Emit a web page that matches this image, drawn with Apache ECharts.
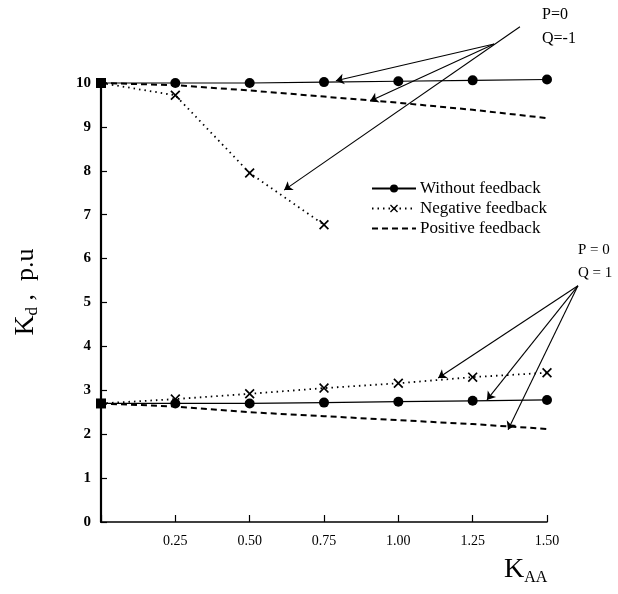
<!DOCTYPE html>
<html>
<head>
<meta charset="utf-8">
<script src="https://cdn.jsdelivr.net/npm/echarts@6/dist/echarts.min.js"></script>
<style>html,body{margin:0;padding:0;background:#fff}#c{width:618px;height:594px}</style>
</head>
<body>
<div id="c"></div>
<script>
// ---- data ----
var kaa = [0, 0.25, 0.5, 0.75, 1.0, 1.25, 1.5];
var kaaNeg = [0, 0.25, 0.5, 0.75];
// Q = -1
var qm1Without  = [10, 10.0, 10.0, 10.02, 10.04, 10.06, 10.08];
var qm1Negative = [10, 9.72, 7.95, 6.77];
var qm1Positive = [10, 9.95, 9.83, 9.69, 9.55, 9.39, 9.2];
// Q = 1
var q1Without  = [2.7, 2.7, 2.7, 2.72, 2.74, 2.76, 2.78];
var q1Negative = [2.7, 2.8, 2.92, 3.05, 3.16, 3.3, 3.4];
var q1Positive = [2.7, 2.63, 2.5, 2.41, 2.32, 2.23, 2.12];
var legendNames = ['Without feedback', 'Negative feedback', 'Positive feedback'];
var xTicks = [0.25, 0.5, 0.75, 1.0, 1.25, 1.5];
// annotation arrows (data coords): [from, to]
var arrowsTop = [
  [[1.322, 10.89], [0.79, 10.05]],
  [[1.322, 10.89], [0.905, 9.59]],
  [[1.409, 11.28], [0.616, 7.56]]
];
var arrowsBottom = [
  [[1.604, 5.38], [1.134, 3.28]],
  [[1.604, 5.38], [1.298, 2.78]],
  [[1.604, 5.38], [1.369, 2.10]]
];

function pairs(xs, ys) { return ys.map(function (y, i) { return [xs[i], y]; }); }
function withStart(d) {
  return d.map(function (p, i) { return i === 0 ? {value: p, symbol: 'rect', symbolSize: 10} : p; });
}
function noStart(d) {
  return d.map(function (p, i) { return i === 0 ? {value: p, symbol: 'none'} : p; });
}
var XSYM = 'path://M0,1.2L1.2,0L5,3.8L8.8,0L10,1.2L6.2,5L10,8.8L8.8,10L5,6.2L1.2,10L0,8.8L3.8,5Z';
var serif = 'Liberation Serif';

function withoutSeries(ys) {
  return {
    name: legendNames[0], type: 'line', data: withStart(pairs(kaa, ys)),
    symbol: 'circle', symbolSize: 10, clip: false,
    lineStyle: {color: '#000', width: 1.2}, itemStyle: {color: '#000'}, z: 5
  };
}
function negSeries(xs, ys) {
  return {
    name: legendNames[1], type: 'line', data: noStart(pairs(xs, ys)),
    symbol: XSYM, symbolSize: 10, clip: false,
    lineStyle: {color: '#000', width: 1.8, type: [1.5, 4]}, itemStyle: {color: '#000'}, z: 4
  };
}
function posSeries(ys) {
  return {
    name: legendNames[2], type: 'line', data: pairs(kaa, ys),
    showSymbol: false, symbol: 'none', clip: false,
    lineStyle: {color: '#000', width: 2, type: [6, 4]}, itemStyle: {color: '#000'}, z: 3
  };
}
function arrowSeries(list) {
  return {
    type: 'lines', coordinateSystem: 'cartesian2d', clip: false, silent: true,
    symbol: ['none', 'arrow'], symbolSize: 8,
    lineStyle: {color: '#000', width: 1.1, opacity: 1},
    data: list.map(function (a) { return {coords: a}; }), z: 6
  };
}

var chart = echarts.init(document.getElementById('c'), null, {renderer: 'canvas'});
chart.setOption({
  animation: false,
  backgroundColor: '#fff',
  textStyle: {fontFamily: serif, color: '#000'},
  grid: {left: 101, right: 71, top: 83, bottom: 72},
  legend: {
    data: [
      {name: legendNames[0]},
      {name: legendNames[1]},
      {name: legendNames[2], itemStyle: {color: 'rgba(0,0,0,0)', borderWidth: 0, opacity: 0}}
    ],
    orient: 'vertical', left: 366, top: 175,
    itemWidth: 44, itemHeight: 10, itemGap: 3,
    textStyle: {fontFamily: serif, fontSize: 17, color: '#000', padding: [0, 0, 0, -1]}
  },
  xAxis: {
    type: 'value', min: 0, max: 1.5, interval: 0.25,
    axisLine: {lineStyle: {color: '#000', width: 1.6}},
    axisTick: {inside: true, length: 7, lineStyle: {color: '#000', width: 1.2}},
    axisLabel: {
      margin: 12, fontFamily: serif, fontSize: 14, color: '#000',
      formatter: function (v) { return xTicks.indexOf(v) >= 0 ? v.toFixed(2) : ''; }
    },
    splitLine: {show: false}
  },
  yAxis: {
    type: 'value', min: 0, max: 10, interval: 1,
    axisLine: {show: true, lineStyle: {color: '#000', width: 2.2}},
    axisTick: {show: true, inside: true, length: 6, lineStyle: {color: '#000', width: 1.2}},
    axisLabel: {margin: 10, fontFamily: serif, fontSize: 15, fontWeight: 'bold', color: '#000'},
    splitLine: {show: false}
  },
  graphic: [
    {type: 'text', x: 26, y: 292, rotation: Math.PI / 2, style: {
      text: '{k|K}{s|d}{t| ,  p.u}', align: 'center', verticalAlign: 'middle',
      rich: {
        k: {fontFamily: serif, fontSize: 28, fill: '#000', lineHeight: 30},
        s: {fontFamily: serif, fontSize: 17, fill: '#000', padding: [14, 0, 0, 0]},
        t: {fontFamily: serif, fontSize: 26, fill: '#000'}
      }
    }},
    {type: 'text', left: 542, top: 7, style: {text: 'P=0', font: '16px "Liberation Serif"', fill: '#000'}},
    {type: 'text', left: 542, top: 31, style: {text: 'Q=-1', font: '16px "Liberation Serif"', fill: '#000'}},
    {type: 'text', left: 578, top: 243, style: {text: 'P = 0', font: '15px "Liberation Serif"', fill: '#000'}},
    {type: 'text', left: 578, top: 266, style: {text: 'Q = 1', font: '15px "Liberation Serif"', fill: '#000'}},
    {type: 'text', left: 504, top: 556, style: {
      text: '{k|K}{s|AA}',
      rich: {
        k: {fontFamily: serif, fontSize: 28, fill: '#000'},
        s: {fontFamily: serif, fontSize: 16, fill: '#000', padding: [15, 0, 0, 0]}
      }
    }}
  ],
  series: [
    posSeries(qm1Positive),
    negSeries(kaaNeg, qm1Negative),
    withoutSeries(qm1Without),
    posSeries(q1Positive),
    negSeries(kaa, q1Negative),
    withoutSeries(q1Without),
    arrowSeries(arrowsTop),
    arrowSeries(arrowsBottom)
  ]
});
</script>
</body>
</html>
